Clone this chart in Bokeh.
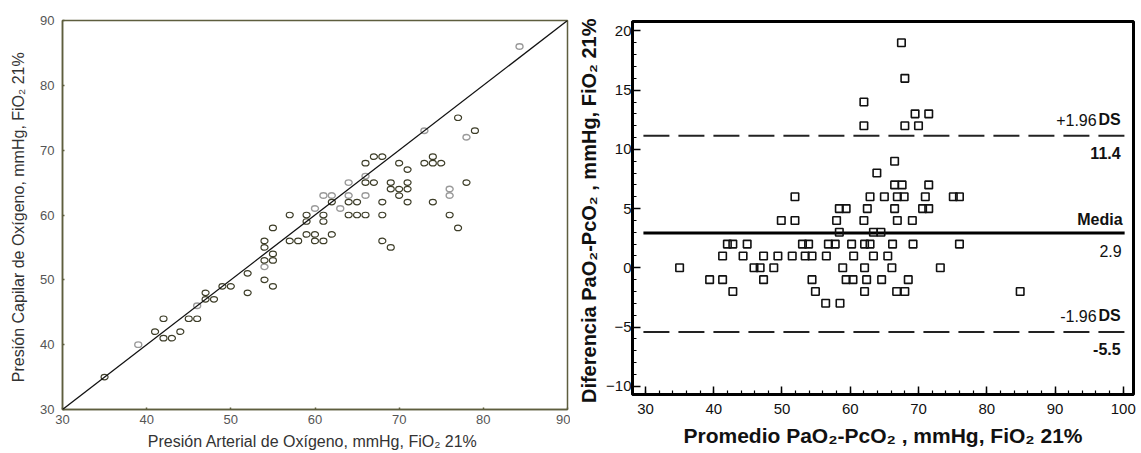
from bokeh.plotting import figure
from bokeh.layouts import row, column
from bokeh.models import Slope, FixedTicker, Range1d
from bokeh.core.properties import value
from bokeh.embed import file_html
from bokeh.resources import INLINE

# ---------------- data: left panel (arterial vs capillary PO2) ----------------
pao2_dark = [35, 41, 42, 42, 43, 44, 45, 46, 47, 47, 48, 49, 50, 52, 52,
             54, 54, 54, 54, 55, 55, 55, 55,
             57, 57, 58, 59, 59, 59, 60, 60, 61, 61, 61, 62, 62, 64, 64, 65, 66, 65,
             66, 66, 67, 67, 68, 68, 68, 68, 69, 70, 71, 69, 69, 70, 70, 71, 71, 71,
             73, 74, 74, 75, 74, 77, 79, 78, 76, 77]
pcap_dark = [35, 42, 44, 41, 41, 42, 44, 44, 48, 47, 47, 49, 49, 51, 48,
             56, 55, 53, 50, 58, 54, 53, 49,
             60, 56, 56, 60, 59, 57, 57, 56, 56, 60, 59, 62, 57, 62, 60, 60, 60, 62,
             68, 65, 65, 69, 69, 62, 60, 56, 55, 68, 67, 65, 64, 64, 63, 65, 64, 62,
             68, 68, 69, 68, 62, 75, 73, 65, 60, 58]
pao2_light = [39, 46, 54, 60, 61, 62, 63, 64, 64, 66, 66, 73, 76, 76, 78, 84.3]
pcap_light = [40, 46, 52, 61, 63, 63, 61, 65, 63, 66, 63, 73, 64, 63, 72, 86]

# ---------------- data: right panel (Bland-Altman) ----------------
ba_mean = [67.5, 68.0, 62.0, 69.5, 71.5, 62.0, 68.0, 70.0, 66.5, 63.9,
           66.5, 67.6, 71.5,
           51.9, 62.9, 65.0, 66.9, 67.9, 71.0, 75.1, 76.0,
           58.4, 59.4, 62.5, 66.5, 70.6, 71.5,
           49.9, 51.9, 58.0, 62.0, 66.9, 69.1,
           58.4, 63.4, 64.5,
           42.0, 42.8, 44.9, 53.0, 53.9, 56.8, 57.8, 60.2, 62.1, 62.9, 66.2, 69.2, 76.0,
           41.3, 44.3, 47.3, 49.4, 51.5, 53.4, 54.4, 56.5, 60.5, 63.4, 65.5,
           35.0, 45.9, 46.8, 48.8, 58.9, 62.1, 66.1, 73.2,
           39.4, 41.3, 47.3, 54.4, 59.4, 60.4, 62.4, 64.6, 68.5,
           42.8, 54.9, 62.1, 66.8, 68.0, 84.9,
           56.4, 58.5]
ba_diff = [19, 16, 14, 13, 13, 12, 12, 12, 9, 8,
           7, 7, 7,
           6, 6, 6, 6, 6, 6, 6, 6,
           5, 5, 5, 5, 5, 5,
           4, 4, 4, 4, 4, 4,
           3, 3, 3,
           2, 2, 2, 2, 2, 2, 2, 2, 2, 2, 2, 2, 2,
           1, 1, 1, 1, 1, 1, 1, 1, 1, 1, 1,
           0, 0, 0, 0, 0, 0, 0, 0,
           -1, -1, -1, -1, -1, -1, -1, -1, -1,
           -2, -2, -2, -2, -2, -2,
           -3, -3]

mean_diff = 2.94      # drawn line position (label 2.9)
upper_loa = 11.15     # drawn line position (label 11.4)
lower_loa = -5.42     # drawn line position (label -5.5)
mean_label = "2.9"
upper_label = "11.4"
lower_label = "-5.5"

left_ticks = [30, 40, 50, 60, 70, 80, 90]
right_xticks = [30, 40, 50, 60, 70, 80, 90, 100]
right_yticks = [-10, -5, 0, 5, 10, 15, 20]

# ---------------- left figure ----------------
OLIVE = "#5e5e3e"
p1 = figure(width=570, height=453, x_range=Range1d(30, 90), y_range=Range1d(30, 90),
            output_backend="svg", toolbar_location=None,
            min_border_left=62, min_border_right=3, min_border_top=20, min_border_bottom=44)
p1.grid.visible = False
p1.outline_line_color = OLIVE
p1.outline_line_width = 1.5
for ax in (p1.xaxis[0], p1.yaxis[0]):
    ax.ticker = FixedTicker(ticks=left_ticks)
    ax.axis_line_color = OLIVE
    ax.axis_line_width = 1.5
    ax.major_tick_line_color = OLIVE
    ax.major_tick_line_width = 1.5
    ax.minor_tick_line_color = None
    ax.major_tick_in = 2
    ax.major_tick_out = 0
    ax.minor_tick_in = 0
    ax.minor_tick_out = 0
    ax.major_label_text_font = "Liberation Sans"
    ax.major_label_text_font_size = "13px"
    ax.major_label_text_color = "#555555"
    ax.axis_label_text_font = "Liberation Sans"
    ax.axis_label_text_font_size = "16px"
    ax.axis_label_text_font_style = "normal"
    ax.axis_label_text_color = "#333333"
p1.xaxis.major_label_standoff = 5
p1.xaxis.axis_label_standoff = 6
p1.yaxis.major_label_standoff = 8
p1.yaxis.axis_label_standoff = 10
p1.xaxis.axis_label = "Presión Arterial de Oxígeno, mmHg, FiO₂  21%"
p1.yaxis.axis_label = "Presión Capilar de Oxígeno, mmHg, FiO₂  21%"

p1.add_layout(Slope(gradient=1, y_intercept=0, line_color="#111111", line_width=1.3))
p1.ellipse(x=pao2_light, y=pcap_light, width=7, height=5.5,
           width_units="screen", height_units="screen",
           fill_color=None, line_color="#9a9a9a", line_width=1.4)
p1.ellipse(x=pao2_dark, y=pcap_dark, width=7, height=5.5,
           width_units="screen", height_units="screen",
           fill_color=None, line_color="#3d3d28", line_width=1.2)

# ---------------- right figure ----------------
LINE_X0 = 29.7
LINE_X1 = 100.2
FONT = "Liberation Sans"
p2 = figure(width=571, height=453, x_range=Range1d(28.1, 101.5), y_range=Range1d(-10.7, 20.8),
            output_backend="svg", toolbar_location=None,
            min_border_left=62, min_border_right=8, min_border_top=21, min_border_bottom=59)
p2.grid.visible = False
p2.outline_line_color = "black"
p2.outline_line_width = 3
p2.xaxis.ticker = FixedTicker(ticks=right_xticks, minor_ticks=list(range(30, 101, 2)))
p2.yaxis.ticker = FixedTicker(ticks=right_yticks, minor_ticks=list(range(-10, 21, 1)))
for ax in (p2.xaxis[0], p2.yaxis[0]):
    ax.axis_line_color = "black"
    ax.axis_line_width = 3
    ax.major_tick_in = 8
    ax.major_tick_out = 0
    ax.minor_tick_in = 4
    ax.minor_tick_out = 0
    ax.major_tick_line_width = 1.5
    ax.minor_tick_line_width = 1.2
    ax.major_tick_line_color = "black"
    ax.minor_tick_line_color = "black"
    ax.major_label_text_font = FONT
    ax.major_label_text_font_size = "15px"
    ax.major_label_text_color = "#111111"
    ax.axis_label_text_font = FONT
    ax.axis_label_text_font_style = "bold"
    ax.axis_label_text_color = "#111111"
p2.xaxis.axis_label_text_font_size = "21px"
p2.yaxis.axis_label_text_font_size = "20px"
p2.xaxis.major_label_standoff = 9
p2.xaxis.axis_label_standoff = 7
p2.yaxis.major_label_standoff = 1
p2.yaxis.axis_label_standoff = 3
p2.xaxis.axis_label = "Promedio PaO₂-PcO₂ , mmHg, FiO₂ 21%"
p2.yaxis.axis_label = "Diferencia  PaO₂-PcO₂ , mmHg, FiO₂ 21%"

p2.segment(x0=[LINE_X0, LINE_X0], x1=[LINE_X1, LINE_X1], y0=[upper_loa, lower_loa],
           y1=[upper_loa, lower_loa], line_color="#222222", line_width=1.8, line_dash="26 9")
p2.segment(x0=[LINE_X0], x1=[LINE_X1], y0=[mean_diff], y1=[mean_diff],
           line_color="black", line_width=3)

p2.scatter(x=ba_mean, y=ba_diff, marker="square", size=7.5,
           fill_color=None, line_color="#111111", line_width=1.6)

common = dict(text_align="right", text_baseline="middle", text_font=value(FONT),
              text_font_size="16px", text_color="#111111")
p2.text(x=[LINE_X1, LINE_X1], y=[upper_loa, lower_loa], text=["DS", "DS"],
        x_offset=-4, y_offset=-16, text_font_style="bold", **common)
p2.text(x=[LINE_X1, LINE_X1], y=[upper_loa, lower_loa], text=["+1.96", "-1.96"],
        x_offset=-28, y_offset=-16, text_font_style="normal", **common)
p2.text(x=[LINE_X1, LINE_X1], y=[upper_loa, lower_loa], text=[upper_label, lower_label],
        x_offset=-4, y_offset=17, text_font_style="bold", **common)
p2.text(x=[LINE_X1], y=[mean_diff], text=["Media"],
        x_offset=-2, y_offset=-13, text_font_style="bold", **common)
p2.text(x=[LINE_X1], y=[mean_diff], text=[mean_label],
        x_offset=-3, y_offset=18, text_font_style="normal", **common)

layout = row(column(p1), column(p2))
open("out.html", "w").write(file_html(layout, INLINE))
